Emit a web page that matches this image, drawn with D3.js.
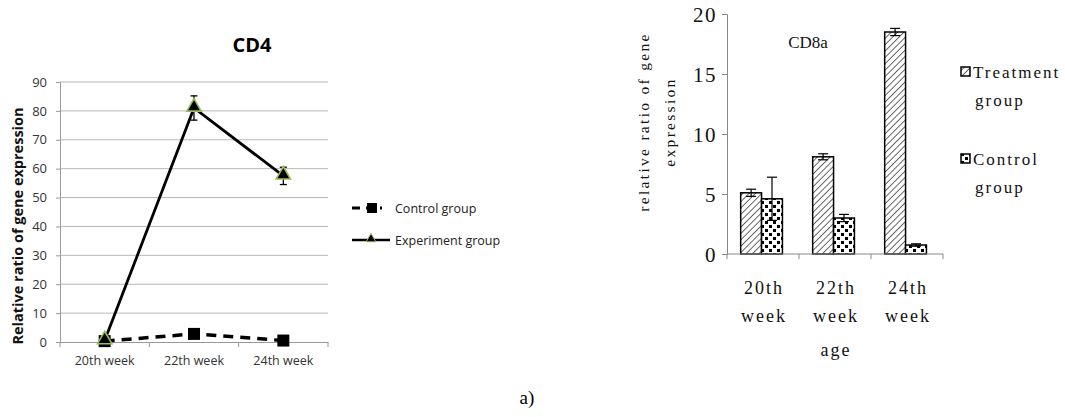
<!DOCTYPE html>
<html><head><meta charset="utf-8">
<script src="https://cdn.jsdelivr.net/npm/d3@7/dist/d3.min.js"></script>
<style>body{margin:0;background:#fff}svg{display:block}</style>
</head><body>
<svg id="c" width="1065" height="417"></svg>
<script>
// ---- Data: CD4 line chart ----
const cd4Categories = ["20th week", "22th week", "24th week"];
const cd4Control = [0.3, 2.8, 0.5];
const cd4Experiment = [0.5, 81, 57.5];
const cd4ExperimentErr = [0, 4.2, 3];
const cd4Ticks = [0, 10, 20, 30, 40, 50, 60, 70, 80, 90];

// ---- Data: CD8a bar chart ----
const cd8Categories = [["20th", "week"], ["22th", "week"], ["24th", "week"]];
const cd8Treatment = [5.1, 8.1, 18.5];
const cd8TreatmentErr = [0.3, 0.25, 0.3];
const cd8Control = [4.6, 3.0, 0.75];
const cd8ControlErr = [1.8, 0.3, 0.1];
const cd8Ticks = [0, 5, 10, 15, 20];

const svg = d3.select("#c");
const defs = svg.append("defs");
const ph = defs.append("pattern").attr("id", "hatch").attr("patternUnits", "userSpaceOnUse")
  .attr("width", 4.5).attr("height", 4.5).attr("patternTransform", "rotate(45)");
ph.append("rect").attr("width", 4.5).attr("height", 4.5).attr("fill", "#fff");
ph.append("line").attr("x1", 0).attr("y1", 0).attr("x2", 0).attr("y2", 4.5)
  .attr("stroke", "#444").attr("stroke-width", 1.6);
const pd = defs.append("pattern").attr("id", "dots").attr("patternUnits", "userSpaceOnUse")
  .attr("width", 8).attr("height", 8);
pd.append("rect").attr("width", 8).attr("height", 8).attr("fill", "#fff");
pd.append("rect").attr("x", 1).attr("y", 1).attr("width", 3).attr("height", 3).attr("fill", "#000");
pd.append("rect").attr("x", 5).attr("y", 5).attr("width", 3).attr("height", 3).attr("fill", "#000");

// ================= Left chart: CD4 =================
const sans = "'Open Sans', Lato, sans-serif";
const L = {left: 60, right: 328, top: 82, bottom: 342};
const x1 = d3.scalePoint().domain(cd4Categories).range([L.left, L.right]).padding(0.5);
const xb1 = d3.scaleBand().domain(cd4Categories).range([L.left, L.right]);
const y1 = d3.scaleLinear().domain([0, 90]).range([L.bottom, L.top]);

const g1 = svg.append("g");
g1.selectAll("line.grid").data(cd4Ticks.filter(d => d > 0)).join("line")
  .attr("x1", L.left).attr("x2", L.right).attr("y1", d => y1(d)).attr("y2", d => y1(d))
  .attr("stroke", "#b8b8b8").attr("stroke-width", 1);
const ya1 = g1.append("g").attr("transform", `translate(${L.left},0)`)
  .call(d3.axisLeft(y1).tickValues(cd4Ticks).tickSize(4).tickPadding(9));
ya1.select(".domain").attr("stroke", "#999");
ya1.selectAll(".tick line").attr("stroke", "#999");
ya1.selectAll("text").attr("font-family", sans).attr("font-size", 13).attr("fill", "#333");
const xa1 = g1.append("g").attr("transform", `translate(0,${L.bottom})`)
  .call(d3.axisBottom(xb1).tickSize(0).tickPadding(14));
xa1.select(".domain").attr("stroke", "#999");
xa1.selectAll("text").attr("font-family", sans).attr("font-size", 12.5).attr("fill", "#333");
g1.selectAll("line.xt").data([...cd4Categories.map(c => xb1(c)), L.right]).join("line")
  .attr("x1", d => d).attr("x2", d => d).attr("y1", L.bottom).attr("y2", L.bottom + 5)
  .attr("stroke", "#999");

const line1 = d3.line().x((d, i) => x1(cd4Categories[i])).y(d => y1(d));
g1.append("path").datum(cd4Control).attr("d", line1).attr("fill", "none")
  .attr("stroke", "#000").attr("stroke-width", 3.5).attr("stroke-dasharray", "10,7");
g1.selectAll("rect.cm").data(cd4Control).join("rect")
  .attr("x", (d, i) => x1(cd4Categories[i]) - 6).attr("y", d => y1(d) - 6)
  .attr("width", 12).attr("height", 12).attr("fill", "#000");
g1.append("path").datum(cd4Experiment).attr("d", line1).attr("fill", "none")
  .attr("stroke", "#000").attr("stroke-width", 2.8);
cd4Experiment.forEach((v, i) => {
  const e = cd4ExperimentErr[i]; if (!e) return;
  const cx = x1(cd4Categories[i]);
  g1.append("line").attr("x1", cx).attr("x2", cx).attr("y1", y1(v + e)).attr("y2", y1(v - e)).attr("stroke", "#000").attr("stroke-width", 1.3);
  [v + e, v - e].forEach(t => g1.append("line").attr("x1", cx - 3.5).attr("x2", cx + 3.5)
    .attr("y1", y1(t)).attr("y2", y1(t)).attr("stroke", "#000").attr("stroke-width", 1.3));
});
const tri = d3.symbol().type(d3.symbolTriangle).size(90);
g1.selectAll("path.tm").data(cd4Experiment).join("path")
  .attr("d", tri).attr("transform", (d, i) => `translate(${x1(cd4Categories[i])},${y1(d) - 1})`)
  .attr("fill", "#000").attr("stroke", "#9bbb59").attr("stroke-width", 1.6);

svg.append("text").attr("x", 252).attr("y", 52).attr("text-anchor", "middle")
  .attr("font-family", sans).attr("font-weight", "bold").attr("font-size", 20).text("CD4");
svg.append("text").attr("transform", "translate(23,226) rotate(-90)").attr("text-anchor", "middle")
  .attr("font-family", sans).attr("font-weight", "bold").attr("font-size", 14.5).attr("fill", "#111")
  .text("Relative ratio of gene expression");

const lg = svg.append("g").attr("font-family", sans).attr("font-size", 12.5).attr("fill", "#222");
lg.append("line").attr("x1", 352).attr("x2", 382).attr("y1", 208).attr("y2", 208)
  .attr("stroke", "#000").attr("stroke-width", 3).attr("stroke-dasharray", "8,6");
lg.append("rect").attr("x", 367).attr("y", 203).attr("width", 10).attr("height", 10).attr("fill", "#000");
lg.append("text").attr("x", 395).attr("y", 212.5).text("Control group");
lg.append("line").attr("x1", 352).attr("x2", 390).attr("y1", 240).attr("y2", 240)
  .attr("stroke", "#000").attr("stroke-width", 2.6);
lg.append("path").attr("d", d3.symbol().type(d3.symbolTriangle).size(40))
  .attr("transform", "translate(371,239)").attr("fill", "#000").attr("stroke", "#9bbb59").attr("stroke-width", 1);
lg.append("text").attr("x", 395).attr("y", 244.5).text("Experiment group");

// ================= Right chart: CD8a =================
const serif = "'Liberation Serif', 'DejaVu Serif', serif";
const R = {left: 727, right: 943, top: 14, bottom: 254};
const keys = ["20", "22", "24"];
const x2 = d3.scaleBand().domain(keys).range([R.left, R.right]);
const xs = d3.scaleBand().domain(["t", "c"]).range([x2.bandwidth() * 0.19, x2.bandwidth() * 0.77]);
const y2 = d3.scaleLinear().domain([0, 20]).range([R.bottom, R.top]);

const g2 = svg.append("g");
const ya2 = g2.append("g").attr("transform", `translate(${R.left},0)`)
  .call(d3.axisLeft(y2).tickValues(cd8Ticks).tickSize(5).tickPadding(5));
ya2.select(".domain").attr("stroke", "#888");
ya2.selectAll(".tick line").attr("stroke", "#888");
ya2.selectAll("text").attr("font-family", serif).attr("font-size", 21).attr("fill", "#111")
  .attr("letter-spacing", 1.5).attr("dy", "0.34em");

const bars = [];
keys.forEach((k, i) => {
  bars.push({k, s: "t", v: cd8Treatment[i], e: cd8TreatmentErr[i]});
  bars.push({k, s: "c", v: cd8Control[i], e: cd8ControlErr[i]});
});
g2.selectAll("rect.bar").data(bars).join("rect")
  .attr("x", d => x2(d.k) + xs(d.s)).attr("y", d => y2(d.v))
  .attr("width", xs.bandwidth()).attr("height", d => y2(0) - y2(d.v))
  .attr("fill", d => d.s === "t" ? "url(#hatch)" : "url(#dots)")
  .attr("stroke", "#000").attr("stroke-width", 1.5);
bars.forEach(d => {
  const cx = x2(d.k) + xs(d.s) + xs.bandwidth() / 2;
  g2.append("line").attr("x1", cx).attr("x2", cx).attr("y1", y2(d.v + d.e)).attr("y2", y2(d.v - d.e))
    .attr("stroke", "#000").attr("stroke-width", 1.2);
  [d.v + d.e, d.v - d.e].forEach(t => g2.append("line").attr("x1", cx - 5).attr("x2", cx + 5)
    .attr("y1", y2(t)).attr("y2", y2(t)).attr("stroke", "#000").attr("stroke-width", 1.2));
});

g2.append("line").attr("x1", R.left).attr("x2", R.right).attr("y1", R.bottom).attr("y2", R.bottom)
  .attr("stroke", "#888");
g2.selectAll("line.xt").data([...keys.map(k => x2(k)), R.right]).join("line")
  .attr("x1", d => d).attr("x2", d => d).attr("y1", R.bottom).attr("y2", R.bottom + 5).attr("stroke", "#888");
keys.forEach((k, i) => {
  const cx = x2(k) + x2.bandwidth() / 2;
  cd8Categories[i].forEach((t, j) => {
    g2.append("text").attr("x", cx + 1).attr("y", 294 + j * 28).attr("text-anchor", "middle")
      .attr("font-family", serif).attr("font-size", 18).attr("letter-spacing", 2).attr("fill", "#111").text(t);
  });
});
g2.append("text").attr("x", (R.left + R.right) / 2 + 1).attr("y", 356).attr("text-anchor", "middle")
  .attr("font-family", serif).attr("font-size", 18).attr("letter-spacing", 2).attr("fill", "#111").text("age");

g2.append("text").attr("x", 808).attr("y", 48).attr("text-anchor", "middle")
  .attr("font-family", serif).attr("font-size", 17).attr("fill", "#111").text("CD8a");
const yl = g2.append("text").attr("transform", "translate(0,122) rotate(-90)").attr("text-anchor", "middle")
  .attr("font-family", serif).attr("font-size", 15.5).attr("letter-spacing", 2.3).attr("fill", "#111");
yl.append("tspan").attr("x", 0).attr("y", 649).text("relative ratio of gene");
yl.append("tspan").attr("x", 0).attr("y", 675).text("expression");

const lg2 = g2.append("g").attr("font-family", serif).attr("font-size", 17).attr("letter-spacing", 2).attr("fill", "#111");
[["url(#hatch)", "Treatment", 73], ["url(#dots)", "Control", 160]].forEach(([f, t, yy]) => {
  lg2.append("rect").attr("x", 961).attr("y", yy - 6).attr("width", 9).attr("height", 9)
    .attr("fill", f).attr("stroke", "#000").attr("stroke-width", 1.5);
  lg2.append("text").attr("x", 973).attr("y", yy + 5).text(t);
  lg2.append("text").attr("x", 975).attr("y", yy + 33).text("group");
});

svg.append("text").attr("x", 527).attr("y", 404).attr("text-anchor", "middle")
  .attr("font-family", serif).attr("font-size", 19).attr("fill", "#000").text("a)");
</script>
</body></html>
